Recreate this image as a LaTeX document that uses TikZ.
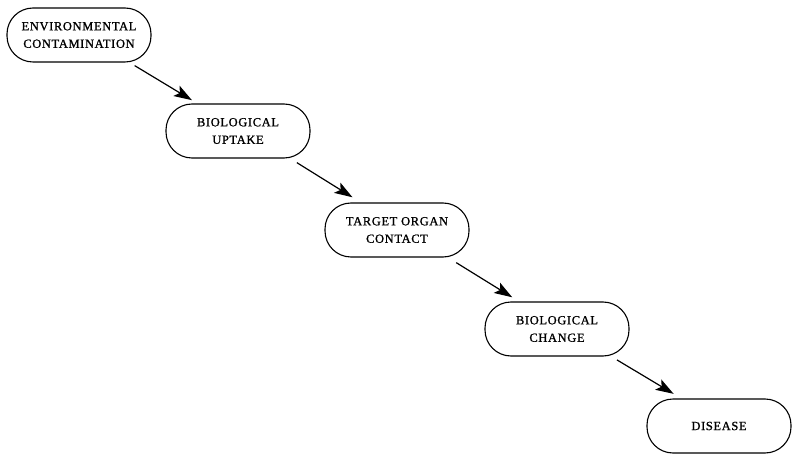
\documentclass[tikz,border=0pt]{standalone}
\usepackage{fontspec}
\setmainfont[LetterSpace=5,FakeBold=1]{Liberation Serif}
\usetikzlibrary{arrows.meta,calc}
\begin{document}
\begin{tikzpicture}[x=1pt,y=-1pt,
  box/.style={draw, line width=1.1pt, rounded corners=26pt, minimum width=144pt, minimum height=54pt, inner sep=0pt, align=center, font=\fontsize{12.5}{17.5}\selectfont},
  arr/.style={line width=1.2pt, -{Stealth[length=18pt,width=12pt,inset=4pt]}}]
\useasboundingbox (0,0) rectangle (792,454);
\node[box] (n1) at (79,35) {ENVIRONMENTAL\\CONTAMINATION};
\node[box] (n2) at (238,131) {BIOLOGICAL\\UPTAKE};
\node[box] (n3) at (397,230) {TARGET ORGAN\\CONTACT};
\node[box] (n4) at (557,329) {BIOLOGICAL\\CHANGE};
\node[box] (n5) at (719,426) {DISEASE};
\draw[arr] ($(n1)!0.35!(n2)+(0,-3)$) -- ($(n1)!0.71!(n2)+(0,-3)$);
\draw[arr] ($(n2)!0.37!(n3)+(0,-5)$) -- ($(n2)!0.72!(n3)+(0,-5)$);
\draw[arr] ($(n3)!0.37!(n4)+(0,-4)$) -- ($(n3)!0.72!(n4)+(0,-4)$);
\draw[arr] ($(n4)!0.37!(n5)+(0,-5)$) -- ($(n4)!0.72!(n5)+(0,-5)$);
\end{tikzpicture}
\end{document}
